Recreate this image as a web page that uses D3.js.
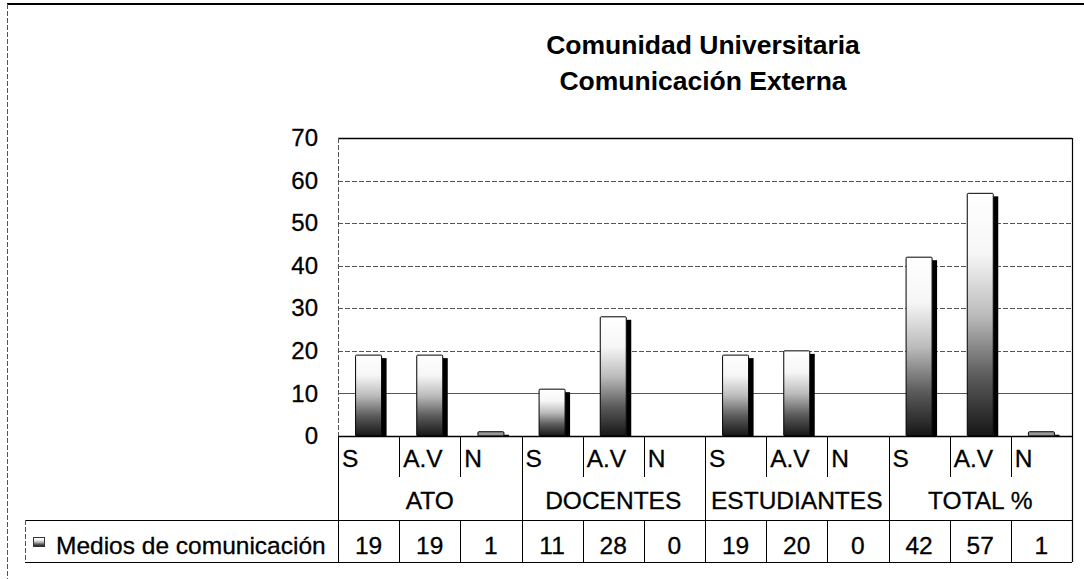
<!DOCTYPE html>
<html>
<head>
  <meta charset="utf-8" />
  <title>Comunidad Universitaria</title>
  <style type="text/css">
    body {
      margin: 0;
      background: #fff;
      font-family: 'Liberation Sans', Arial, sans-serif;
    }
  </style>
</head>
<body>
  <div id="chart"></div>

  <script src="https://d3js.org/d3.v7.min.js"></script>
  <script>
  // chart data
  var titleLines = ['Comunidad Universitaria', 'Comunicación Externa'];
  var groups = ['ATO', 'DOCENTES', 'ESTUDIANTES', 'TOTAL %'];
  var subs = ['S', 'A.V', 'N'];
  var seriesName = 'Medios de comunicación';
  var values = [19, 19, 1, 11, 28, 0, 19, 20, 0, 42, 57, 1];
  var yTicks = [0, 10, 20, 30, 40, 50, 60, 70];

  var width = 1084, height = 579;
  var plot = {left: 338, right: 1072, top: 138, bottom: 436};
  var rowSub = 477, rowData = 520, tableBottom = 562, legendLeft = 25;

  // one entry per column
  var cols = [];
  groups.forEach(function (g, gi) {
    subs.forEach(function (s, si) {
      cols.push({group: g, sub: s, key: g + '|' + s, value: values[gi * subs.length + si], first: si === 0});
    });
  });

  var svg = d3.select('#chart').append('svg')
    .attr('width', width).attr('height', height);

  var defs = svg.append('defs');
  var grad = defs.append('linearGradient').attr('id', 'barGrad')
    .attr('x1', 0).attr('y1', 0).attr('x2', 0).attr('y2', 1);
  grad.selectAll('stop')
    .data([[0, '#ffffff'], [0.25, '#f6f6f6'], [0.5, '#bcbcbc'], [0.75, '#5c5c5c'], [1, '#161616']])
    .enter().append('stop')
    .attr('offset', function (d) { return d[0]; })
    .attr('stop-color', function (d) { return d[1]; });

  // outer chart frame (cropped in the reference)
  svg.append('line').attr('x1', 7).attr('x2', width).attr('y1', 4).attr('y2', 4)
    .attr('stroke', '#000').attr('stroke-width', 2);
  svg.append('line').attr('x1', 7.5).attr('x2', 7.5).attr('y1', 4).attr('y2', height)
    .attr('stroke', '#555').attr('stroke-dasharray', '5 2');

  var x = d3.scaleBand().domain(cols.map(function (d) { return d.key; }))
    .range([plot.left, plot.right]);
  var y = d3.scaleLinear().domain([0, 70]).range([plot.bottom, plot.top]);

  // title
  svg.append('g').selectAll('text')
    .data(titleLines)
    .enter().append('text')
    .attr('x', 703)
    .attr('y', function (d, i) { return 54 + i * 36; })
    .attr('text-anchor', 'middle')
    .attr('font-size', 26.5)
    .attr('font-weight', 'bold')
    .text(function (d) { return d; });

  // gridlines
  svg.append('g').selectAll('line')
    .data(yTicks.filter(function (t) { return t > 0 && t < 70; }))
    .enter().append('line')
    .attr('x1', plot.left).attr('x2', plot.right)
    .attr('y1', function (d) { return Math.round(y(d)) + 0.5; })
    .attr('y2', function (d) { return Math.round(y(d)) + 0.5; })
    .attr('stroke', '#555')
    .attr('stroke-dasharray', function (d) { return d === 10 ? null : '5 2'; });

  // plot border
  svg.append('line').attr('x1', plot.left).attr('x2', plot.right).attr('y1', plot.top + 0.5).attr('y2', plot.top + 0.5)
    .attr('stroke', '#000').attr('stroke-width', 1.5);
  svg.append('line').attr('x1', plot.left + 0.5).attr('x2', plot.left + 0.5).attr('y1', plot.top).attr('y2', plot.bottom)
    .attr('stroke', '#555').attr('stroke-dasharray', '5 2');
  svg.append('line').attr('x1', plot.right + 0.5).attr('x2', plot.right + 0.5).attr('y1', plot.top).attr('y2', tableBottom)
    .attr('stroke', '#000').attr('stroke-width', 1.2);

  // y axis labels
  var yAxis = d3.axisLeft(y).tickValues(yTicks).tickSize(0).tickPadding(20);
  var ya = svg.append('g').attr('transform', 'translate(' + plot.left + ',0)').call(yAxis);
  ya.select('.domain').remove();
  ya.selectAll('text').attr('font-size', 24).attr('font-family', "'Liberation Sans', Arial, sans-serif")
    .attr('fill', '#000').attr('stroke', '#000').attr('stroke-width', 0.3);

  // bars: front face + dark depth
  var bw = 26, depth = 5, drop = 3;
  var bars = svg.append('g').selectAll('g')
    .data(cols.filter(function (d) { return d.value > 0; }))
    .enter().append('g');

  bars.append('rect')
    .attr('x', function (d) { return x(d.key) + x.bandwidth() / 2 - bw / 2 + bw; })
    .attr('y', function (d) { return Math.min(y(d.value) + drop, plot.bottom - 1); })
    .attr('width', depth)
    .attr('height', function (d) { return Math.max(plot.bottom - y(d.value) - drop, 1); })
    .attr('fill', '#000');

  bars.append('rect')
    .attr('x', function (d) { return x(d.key) + x.bandwidth() / 2 - bw / 2; })
    .attr('y', function (d) { return y(d.value); })
    .attr('width', bw)
    .attr('height', function (d) { return plot.bottom - y(d.value); })
    .attr('rx', 1)
    .attr('fill', function (d) { return d.value > 2 ? 'url(#barGrad)' : '#999'; })
    .attr('stroke', '#000')
    .attr('stroke-width', 1);

  // data table
  var table = svg.append('g').attr('stroke', '#000').attr('stroke-width', 1);

  table.append('line').attr('x1', plot.left).attr('x2', plot.right).attr('y1', plot.bottom + 0.5).attr('y2', plot.bottom + 0.5)
    .attr('stroke-width', 1.5);
  table.append('line').attr('x1', plot.left + 0.5).attr('x2', plot.left + 0.5).attr('y1', plot.bottom).attr('y2', tableBottom);
  table.append('line').attr('x1', legendLeft).attr('x2', plot.right).attr('y1', rowData + 0.5).attr('y2', rowData + 0.5);
  table.append('line').attr('x1', legendLeft).attr('x2', plot.right).attr('y1', tableBottom + 0.5).attr('y2', tableBottom + 0.5);
  table.append('line').attr('x1', legendLeft + 0.5).attr('x2', legendLeft + 0.5).attr('y1', rowData).attr('y2', tableBottom)
    .attr('stroke', '#555').attr('stroke-dasharray', '5 2');

  // column separators: full height at group edges, short within a group
  table.selectAll('line.sep')
    .data(cols.filter(function (d, i) { return i > 0; }))
    .enter().append('line').attr('class', 'sep')
    .attr('x1', function (d) { return Math.round(x(d.key)) + 0.5; })
    .attr('x2', function (d) { return Math.round(x(d.key)) + 0.5; })
    .attr('y1', plot.bottom)
    .attr('y2', function (d) { return d.first ? tableBottom : rowSub; });
  table.selectAll('line.sep2')
    .data(cols.filter(function (d, i) { return i > 0 && !d.first; }))
    .enter().append('line').attr('class', 'sep2')
    .attr('x1', function (d) { return Math.round(x(d.key)) + 0.5; })
    .attr('x2', function (d) { return Math.round(x(d.key)) + 0.5; })
    .attr('y1', rowData)
    .attr('y2', tableBottom);

  var txt = svg.append('g').attr('font-size', 24.5).attr('fill', '#000')
    .attr('stroke', '#000').attr('stroke-width', 0.3);

  txt.selectAll('text.sub')
    .data(cols)
    .enter().append('text').attr('class', 'sub')
    .attr('x', function (d) { return x(d.key) + 4; })
    .attr('y', 467)
    .text(function (d) { return d.sub; });

  txt.selectAll('text.grp')
    .data(groups)
    .enter().append('text').attr('class', 'grp')
    .attr('x', function (d, i) {
      var a = x(cols[i * subs.length].key);
      return a + x.bandwidth() * subs.length / 2;
    })
    .attr('y', 509)
    .attr('text-anchor', 'middle')
    .text(function (d) { return d; });

  txt.selectAll('text.val')
    .data(cols)
    .enter().append('text').attr('class', 'val')
    .attr('x', function (d) { return x(d.key) + x.bandwidth() / 2; })
    .attr('y', 554)
    .attr('text-anchor', 'middle')
    .text(function (d) { return d.value; });

  // legend key + series name
  svg.append('rect').attr('x', 33.5).attr('y', 537.5).attr('width', 11).attr('height', 9)
    .attr('fill', 'url(#barGrad)').attr('stroke', '#333');
  txt.append('text').attr('x', 56).attr('y', 554).text(seriesName);
  </script>
</body>
</html>
